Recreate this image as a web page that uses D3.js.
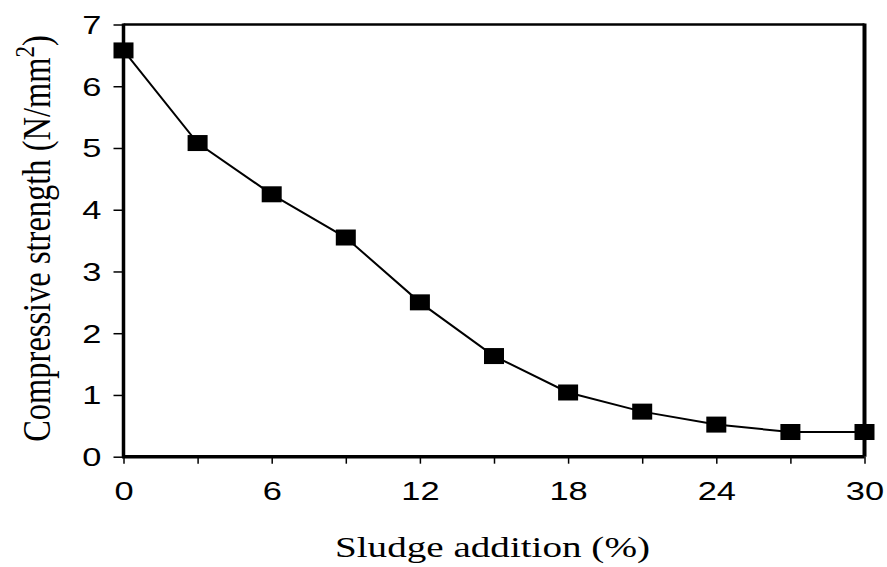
<!DOCTYPE html>
<html><head><meta charset="utf-8">
<script src="https://cdn.jsdelivr.net/npm/d3@7"></script>
<style>html,body{margin:0;padding:0;background:#fff;}</style>
</head><body>
<svg id="chart" width="887" height="567"></svg>
<script>
const sludge = [0, 3, 6, 9, 12, 15, 18, 21, 24, 27, 30];
const strength = [6.58, 5.08, 4.25, 3.55, 2.50, 1.63, 1.04, 0.73, 0.52, 0.40, 0.40];
const xTicks = [0, 3, 6, 9, 12, 15, 18, 21, 24, 27, 30];
const xLabels = [0, 6, 12, 18, 24, 30];
const yTicks = [0, 1, 2, 3, 4, 5, 6, 7];

const svg = d3.select("#chart");
const L = 123.5, R = 864.5, T = 24.5, B = 456.7;
const x = d3.scaleLinear().domain([0, 30]).range([L, R]);
const y = d3.scaleLinear().domain([0, 7]).range([B, T]);
const HS = 1.35; // horizontal stretch of the reference glyphs

function stretch(sel, f) {
  sel.each(function () {
    const w = this.getComputedTextLength();
    if (w > 0) d3.select(this).attr("textLength", w * f).attr("lengthAdjust", "spacingAndGlyphs");
  });
}

// frame: top and right
svg.append("line").attr("x1", L).attr("x2", R).attr("y1", T).attr("y2", T)
  .attr("stroke", "#000").attr("stroke-width", 2.5);
svg.append("line").attr("x1", R).attr("x2", R).attr("y1", T - 1).attr("y2", B)
  .attr("stroke", "#000").attr("stroke-width", 4);

// Y axis
const yAxis = svg.append("g").attr("transform", `translate(${L},0)`)
  .call(d3.axisLeft(y).tickValues(yTicks).tickFormat(d3.format("d")).tickSize(10).tickPadding(12));
yAxis.select(".domain").attr("stroke-width", 3.5).attr("d", `M0,${B + 1}V${T - 1}`);
yAxis.selectAll(".tick line").attr("stroke-width", 1.5);
yAxis.selectAll("text").attr("font-family", "Liberation Sans, Arial, sans-serif")
  .attr("font-size", 25.5).attr("fill", "#000").attr("dy", "0.35em");
stretch(yAxis.selectAll("text"), HS);

// X axis
const xAxis = svg.append("g").attr("transform", `translate(0,${B})`)
  .call(d3.axisBottom(x).tickValues(xTicks)
    .tickFormat(d => xLabels.includes(d) ? d : "").tickSize(7).tickPadding(18));
xAxis.select(".domain").attr("stroke-width", 3.5).attr("d", `M${L - 1.5},0H${R}`);
xAxis.selectAll(".tick line").attr("stroke-width", 1.5);
xAxis.selectAll("text").attr("font-family", "Liberation Sans, Arial, sans-serif")
  .attr("font-size", 25.5).attr("fill", "#000");
stretch(xAxis.selectAll("text"), HS);

// line
const data = sludge.map((s, i) => ({ s, v: strength[i] }));
svg.append("path").datum(data)
  .attr("fill", "none").attr("stroke", "#000").attr("stroke-width", 2)
  .attr("d", d3.line().x(d => x(d.s)).y(d => y(d.v)));

// markers
svg.selectAll("rect.m").data(data).enter().append("rect").attr("class", "m")
  .attr("x", d => x(d.s) - 10).attr("y", d => y(d.v) - 8)
  .attr("width", 20).attr("height", 16).attr("fill", "#000");

// titles
svg.append("text").attr("x", 492.5).attr("y", 557).attr("text-anchor", "middle")
  .attr("font-family", "Liberation Serif, Times New Roman, serif").attr("font-size", 29)
  .attr("fill", "#000").attr("textLength", 315).attr("lengthAdjust", "spacingAndGlyphs")
  .text("Sludge addition (%)");

const yt = svg.append("text").attr("transform", "translate(50,238.5) rotate(-90) scale(1,1.2)")
  .attr("text-anchor", "middle")
  .attr("font-family", "Liberation Serif, Times New Roman, serif").attr("font-size", 32.5)
  .attr("fill", "#000");
yt.append("tspan").text("Compressive strength (N/mm");
yt.append("tspan").attr("dy", -13).attr("font-size", 23).text("2");
yt.append("tspan").attr("dy", 13).text(")");
</script>
</body></html>
